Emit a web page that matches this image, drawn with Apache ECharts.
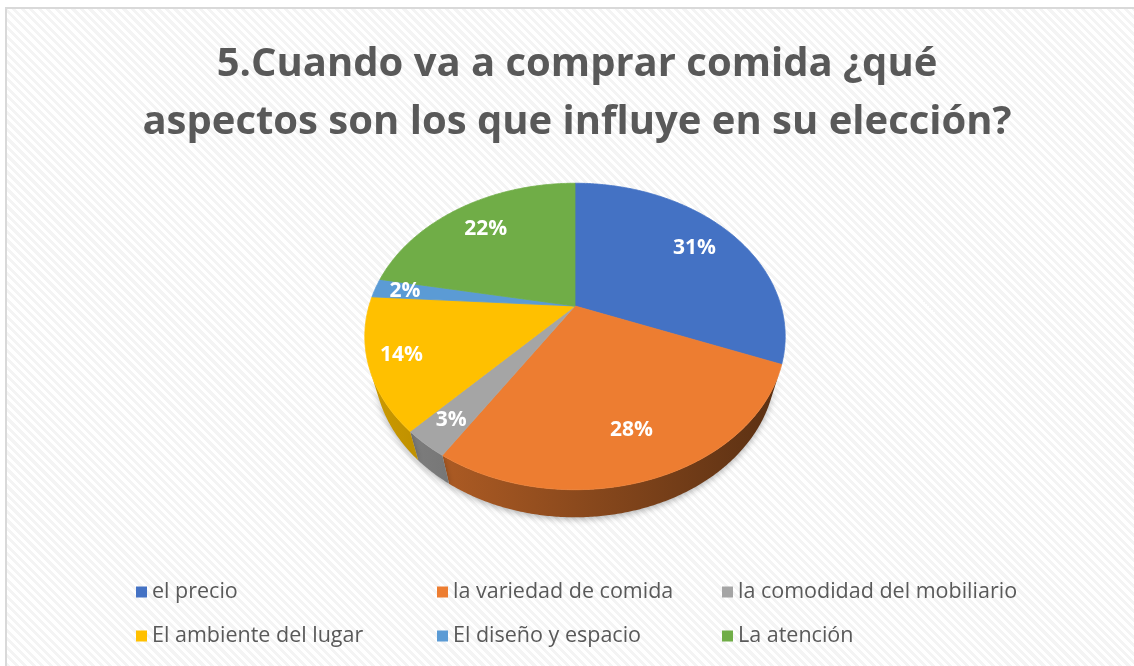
<!DOCTYPE html>
<html>
<head>
<meta charset="utf-8">
<script src="https://cdn.jsdelivr.net/npm/echarts@6/dist/echarts.min.js"></script>
<style>
  html, body { margin: 0; padding: 0; background: #fff; }
  #frame {
    position: absolute; left: 5px; top: 7px; width: 1140px; height: 670px;
    border-top: 2px solid #d9d9d9; border-left: 2px solid #d9d9d9;
    background: repeating-linear-gradient(45deg, #fff 0px, #fff 3px, #f4f4f4 3px, #f4f4f4 6px);
  }
  #main { position: absolute; left: 0; top: 0; width: 1134px; height: 666px; }
</style>
</head>
<body>
<div id="frame"></div>
<div id="main"></div>
<script>
// datos de la encuesta (porcentajes)
const categories = ['el precio', 'la variedad de comida', 'la comodidad del mobiliario', 'El ambiente del lugar', 'El diseño y espacio', 'La atención']
const percentValues = [31, 28, 3, 14, 2, 22]
const sliceColors = ['#4472C4', '#ED7D31', '#A5A5A5', '#FFC000', '#5B9BD5', '#70AD47']

// pie 3D en perspectiva
const CX = 575
const CY = 306
const R = 206
const TILT = 45.6 * Math.PI / 180
const DIST = 725
const DEPTH = 45

const total = percentValues.reduce((a, b) => a + b, 0)
const starts = []
percentValues.reduce((acc, v, i) => { starts[i] = acc; return acc + v / total * 360 }, 0)

// parte visible del lateral (desde el frente)
const visHalf = Math.acos(R / (DIST * Math.cos(TILT))) * 180 / Math.PI

function project(x, y, z) {
  const ys = z * Math.sin(TILT) - y * Math.cos(TILT)
  const dz = z * Math.cos(TILT) + y * Math.sin(TILT)
  const s = DIST / (DIST - dz)
  return [CX + x * s, CY + ys * s]
}

function rim(deg, y, r) {
  const t = deg * Math.PI / 180
  return project(r * Math.sin(t), y, -r * Math.cos(t))
}

function shade(hex, k) {
  const n = parseInt(hex.slice(1), 16)
  const r = Math.round(((n >> 16) & 255) * k)
  const g = Math.round(((n >> 8) & 255) * k)
  const b = Math.round((n & 255) * k)
  return 'rgb(' + r + ',' + g + ',' + b + ')'
}

function renderSlice(i) {
  return function(params, api) {
    const color = api.visual('color')
    const share = percentValues[i] / total
    const a0 = starts[i]
    const a1 = a0 + share * 360
    const children = []

    // lateral
    const v0 = Math.max(a0, 180 - visHalf)
    const v1 = Math.min(a1, 180 + visHalf)
    if (v1 > v0) {
      const pts = []
      for (let t = v0; t < v1; t += 0.5) pts.push(rim(t, 0, R))
      pts.push(rim(v1, 0, R))
      for (let t = v1; t > v0; t -= 0.5) pts.push(rim(t, -DEPTH, R))
      pts.push(rim(v0, -DEPTH, R))
      children.push({
        type: 'polygon',
        z2: 0,
        shape: { points: pts },
        style: {
          fill: {
            type: 'linear', x: CX - R, y: 0, x2: CX + R, y2: 0, global: true,
            colorStops: [
              { offset: 0, color: shade(color, 0.8) },
              { offset: 1, color: shade(color, 0.38) }
            ]
          },
          shadowBlur: 6,
          shadowOffsetY: 2,
          shadowColor: 'rgba(0,0,0,0.3)'
        }
      })
    }

    // cara superior
    const top = [project(0, 0, 0)]
    for (let t = a0; t < a1; t += 0.5) top.push(rim(t, 0, R))
    top.push(rim(a1, 0, R))
    children.push({
      type: 'polygon',
      z2: 1,
      shape: { points: top },
      style: { fill: color, stroke: color, lineWidth: 0.8 }
    })

    // etiqueta
    const f = share >= 0.2 ? 0.76 : 0.85
    const p = rim((a0 + a1) / 2, 0, R * f)
    children.push({
      type: 'text',
      x: p[0],
      y: p[1],
      z2: 10,
      style: {
        text: Math.round(share * 100) + '%',
        fill: '#fff',
        font: 'bold 21px "Open Sans"',
        align: 'center',
        verticalAlign: 'middle'
      }
    })
    return { type: 'group', children: children }
  }
}

const chart = echarts.init(document.getElementById('main'))

const legendBase = {
  orient: 'vertical',
  top: 581,
  itemGap: 22,
  itemWidth: 11,
  itemHeight: 11,
  icon: 'rect',
  padding: 0,
  selectedMode: false,
  textStyle: { fontFamily: 'Open Sans', fontSize: 21.5, lineHeight: 22, color: '#595959' }
}

chart.setOption({
  animation: false,
  title: {
    text: '5.Cuando va a comprar comida ¿qué\naspectos son los que influye en su elección?',
    left: 572,
    textAlign: 'center',
    top: 31,
    textStyle: {
      fontFamily: 'Open Sans',
      fontWeight: 'bold',
      fontSize: 40,
      lineHeight: 58,
      color: '#595959'
    }
  },
  legend: [
    Object.assign({}, legendBase, { left: 136, data: [categories[0], categories[3]] }),
    Object.assign({}, legendBase, { left: 437, data: [categories[1], categories[4]] }),
    Object.assign({}, legendBase, { left: 722, data: [categories[2], categories[5]] })
  ],
  series: categories.map((name, i) => ({
    type: 'custom',
    name: name,
    coordinateSystem: 'none',
    itemStyle: { color: sliceColors[i] },
    data: [{ name: name, value: percentValues[i] }],
    renderItem: renderSlice(i)
  }))
})
</script>
</body>
</html>
